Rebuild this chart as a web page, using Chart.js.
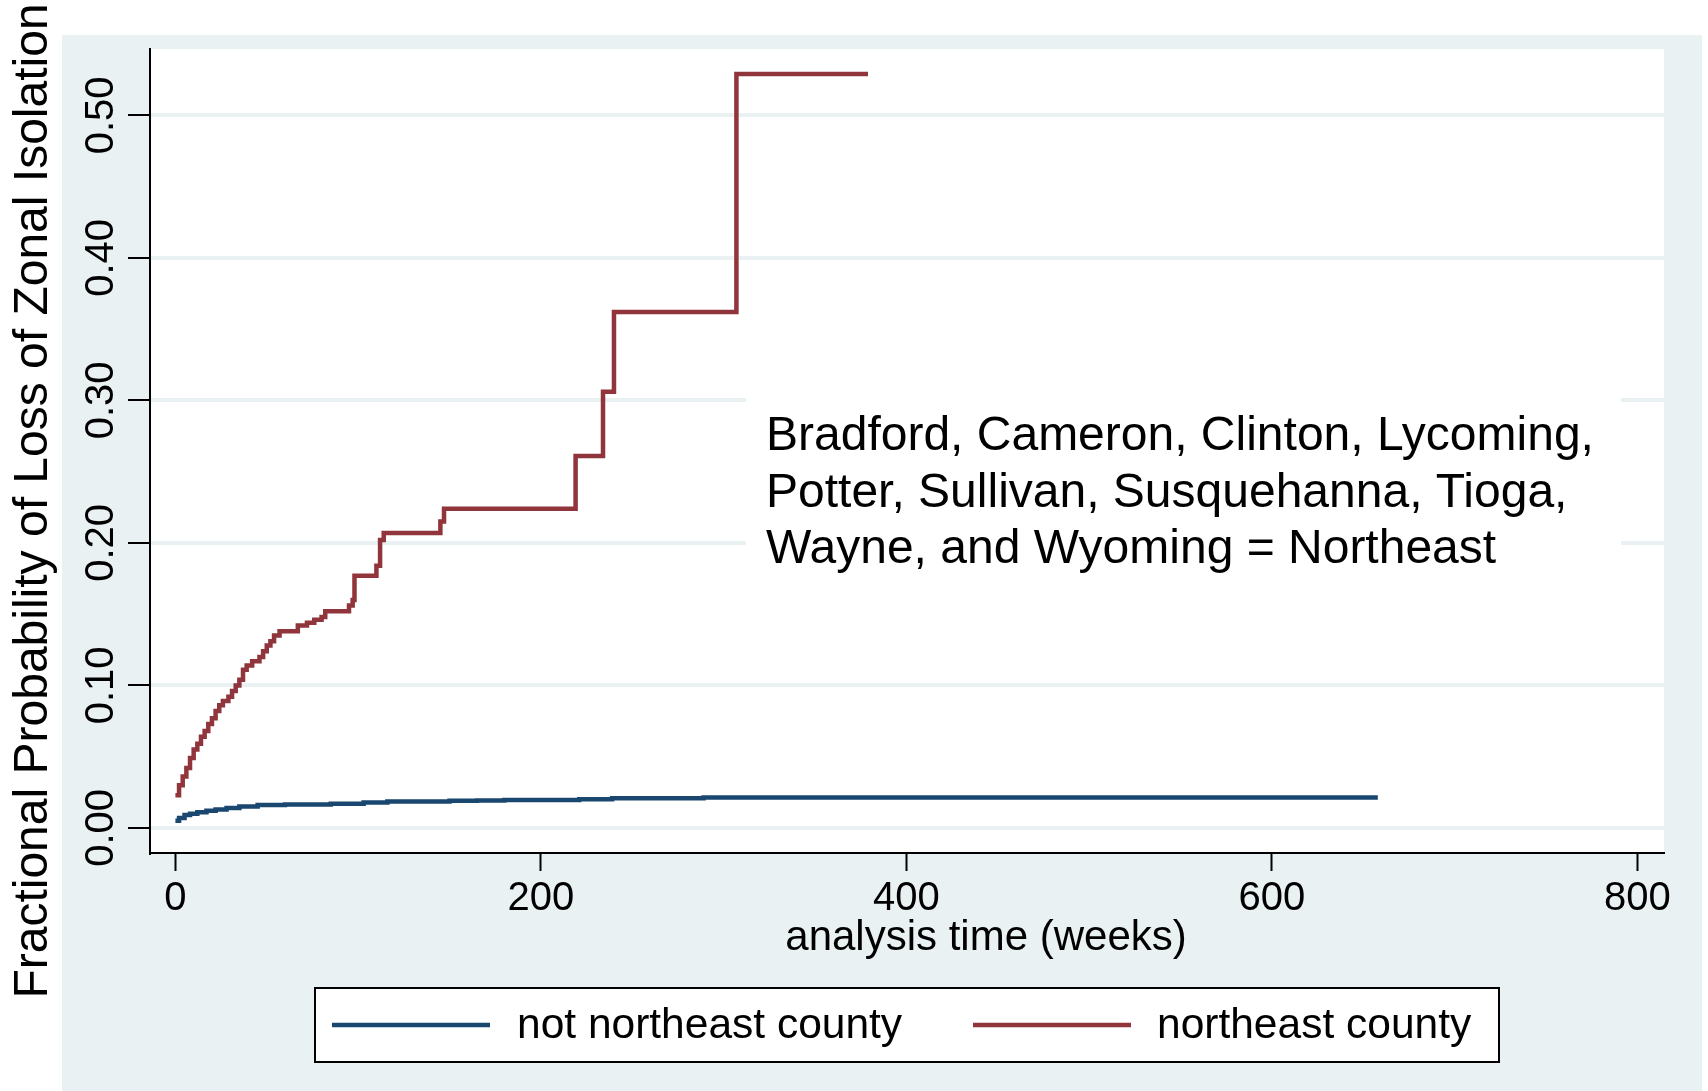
<!DOCTYPE html>
<html>
<head>
<meta charset="utf-8">
<title>Loss of Zonal Isolation</title>
<script src="https://cdn.jsdelivr.net/npm/chart.js@4.4.1/dist/chart.umd.min.js"></script>
<style>
  html, body { margin: 0; padding: 0; background: #ffffff; }
  #wrap { width: 1708px; height: 1091px; position: relative; }
  canvas { display: block; }
</style>
</head>
<body>
<div id="wrap"><canvas id="km" width="1708" height="1091"></canvas></div>
<script>
// Kaplan-Meier failure estimates: event time (weeks) and cumulative probability after it
const weeksNortheast = [0, 2, 4, 6, 8, 10, 12, 14, 16, 18, 20, 22, 24, 26, 29, 31, 33, 35, 37, 39,
  42, 46, 48, 50, 52, 54, 57, 67, 72, 76, 80, 82, 95, 97, 98, 110, 112, 114, 145, 147,
  219, 234, 240, 307, 379];
const probNortheast = [0.023, 0.030, 0.036, 0.042, 0.049, 0.055, 0.059, 0.064, 0.068, 0.073,
  0.077, 0.082, 0.086, 0.089, 0.092, 0.096, 0.100, 0.104, 0.111, 0.114,
  0.117, 0.120, 0.124, 0.128, 0.131, 0.135, 0.138, 0.142, 0.144, 0.146,
  0.148, 0.152, 0.156, 0.160, 0.177, 0.184, 0.202, 0.207, 0.215, 0.224,
  0.261, 0.306, 0.362, 0.529, 0.529];

const weeksOther = [0, 2, 5, 8, 12, 17, 22, 28, 35, 45, 60, 85, 103, 116, 150, 165, 180,
  221, 239, 289, 658];
const probOther = [0.005, 0.007, 0.009, 0.010, 0.011, 0.012, 0.013, 0.014, 0.015, 0.016,
  0.0165, 0.017, 0.0178, 0.0185, 0.019, 0.0193, 0.0196, 0.0202, 0.0208, 0.0214, 0.0214];

const seriesLabels = ['not northeast county', 'northeast county'];
const xTickValues = [0, 200, 400, 600, 800];
const yTickValues = [0, 0.1, 0.2, 0.3, 0.4, 0.5];
const yTickLabels = ['0.00', '0.10', '0.20', '0.30', '0.40', '0.50'];
const xTitle = 'analysis time (weeks)';
const yTitle = 'Fractional Probability of Loss of Zonal Isolation';
const noteLines = [
  'Bradford, Cameron, Clinton, Lycoming,',
  'Potter, Sullivan, Susquehanna, Tioga,',
  'Wayne, and Wyoming = Northeast'
];

const NAVY = '#1a476f';
const MAROON = '#90353b';
const PANEL = '#eaf1f3';
const FONT = '"Liberation Sans", Arial, Helvetica, sans-serif';

function toPoints(xs, ys) {
  return xs.map((x, i) => ({ x: x, y: ys[i] }));
}

// Backdrop: white page, bluish-gray graph region, white plot region
const backdrop = {
  id: 'backdrop',
  beforeDraw(chart) {
    const { ctx, chartArea: a } = chart;
    ctx.save();
    ctx.fillStyle = '#ffffff';
    ctx.fillRect(0, 0, chart.width, chart.height);
    ctx.fillStyle = PANEL;
    ctx.fillRect(62, 35, 1640, chart.height - 35);
    ctx.fillStyle = '#ffffff';
    ctx.fillRect(a.left, a.top, a.right - a.left, a.bottom - a.top);
    ctx.restore();
  },
  beforeDatasetsDraw(chart) {
    // white box behind the county note
    const { ctx } = chart;
    ctx.save();
    ctx.fillStyle = '#ffffff';
    ctx.fillRect(746, 372, 875, 218);
    ctx.restore();
  }
};

// Texts: rotated y tick labels, axis titles, county note and boxed legend
const texts = {
  id: 'texts',
  afterDraw(chart) {
    const { ctx } = chart;
    const ys = chart.scales.y;
    ctx.save();
    ctx.fillStyle = '#000000';

    // y tick labels, reading upward
    ctx.font = '40px ' + FONT;
    ctx.textAlign = 'center';
    ctx.textBaseline = 'middle';
    yTickValues.forEach((v, i) => {
      const py = ys.getPixelForValue(v);
      ctx.save();
      ctx.translate(102, py);
      ctx.rotate(-Math.PI / 2);
      ctx.fillText(yTickLabels[i], 0, 0);
      ctx.restore();
    });

    // y axis title
    ctx.save();
    ctx.font = '48px ' + FONT;
    ctx.translate(34, 501);
    ctx.rotate(-Math.PI / 2);
    ctx.fillText(yTitle, 0, 0);
    ctx.restore();

    // x axis title
    ctx.font = '42px ' + FONT;
    ctx.fillText(xTitle, 986, 938);

    // county note
    ctx.font = '48px ' + FONT;
    ctx.textAlign = 'left';
    ctx.textBaseline = 'alphabetic';
    noteLines.forEach((line, i) => {
      ctx.fillText(line, 766, 450 + i * 56.5);
    });

    // legend box
    ctx.fillStyle = '#ffffff';
    ctx.fillRect(315, 988, 1184, 74);
    ctx.strokeStyle = '#000000';
    ctx.lineWidth = 2;
    ctx.strokeRect(315, 988, 1184, 74);
    const items = [
      { x0: 332, x1: 490, tx: 517, ds: chart.data.datasets[0] },
      { x0: 973, x1: 1131, tx: 1157, ds: chart.data.datasets[1] }
    ];
    ctx.font = '42.5px ' + FONT;
    ctx.textBaseline = 'middle';
    items.forEach(it => {
      ctx.strokeStyle = it.ds.borderColor;
      ctx.lineWidth = 4.5;
      ctx.beginPath();
      ctx.moveTo(it.x0, 1025);
      ctx.lineTo(it.x1, 1025);
      ctx.stroke();
      ctx.fillStyle = '#000000';
      ctx.fillText(it.ds.label, it.tx, 1026);
    });
    ctx.restore();
  }
};

new Chart(document.getElementById('km'), {
  type: 'line',
  data: {
    datasets: [
      {
        label: seriesLabels[0],
        data: toPoints(weeksOther, probOther),
        borderColor: NAVY,
        borderWidth: 4.5,
        stepped: true,
        pointRadius: 0,
        fill: false
      },
      {
        label: seriesLabels[1],
        data: toPoints(weeksNortheast, probNortheast),
        borderColor: MAROON,
        borderWidth: 4.5,
        stepped: true,
        pointRadius: 0,
        fill: false
      }
    ]
  },
  options: {
    responsive: false,
    devicePixelRatio: 1,
    animation: false,
    events: [],
    layout: { padding: { top: 49, right: 44, left: 0, bottom: 0 } },
    plugins: {
      legend: { display: false },
      tooltip: { enabled: false },
      title: { display: false }
    },
    scales: {
      x: {
        type: 'linear',
        min: -13.9,
        max: 814.6,
        afterBuildTicks(scale) { scale.ticks = xTickValues.map(v => ({ value: v })); },
        afterFit(scale) { scale.height = 238; },
        ticks: {
          color: '#000000',
          font: { family: FONT, size: 40 },
          padding: 4,
          maxRotation: 0,
          autoSkip: false
        },
        grid: {
          drawOnChartArea: false,
          drawTicks: true,
          tickLength: 18,
          tickColor: '#000000',
          tickWidth: 2
        },
        border: { display: true, color: '#000000', width: 2 }
      },
      y: {
        type: 'linear',
        min: -0.0176,
        max: 0.5466,
        afterBuildTicks(scale) { scale.ticks = yTickValues.map(v => ({ value: v })); },
        afterFit(scale) { scale.width = 150; },
        ticks: { display: false },
        grid: {
          color: PANEL,
          lineWidth: 4,
          drawTicks: true,
          tickLength: 22,
          tickColor: '#000000',
          tickWidth: 2
        },
        border: { display: true, color: '#000000', width: 2 }
      }
    }
  },
  plugins: [backdrop, texts]
});
</script>
</body>
</html>
